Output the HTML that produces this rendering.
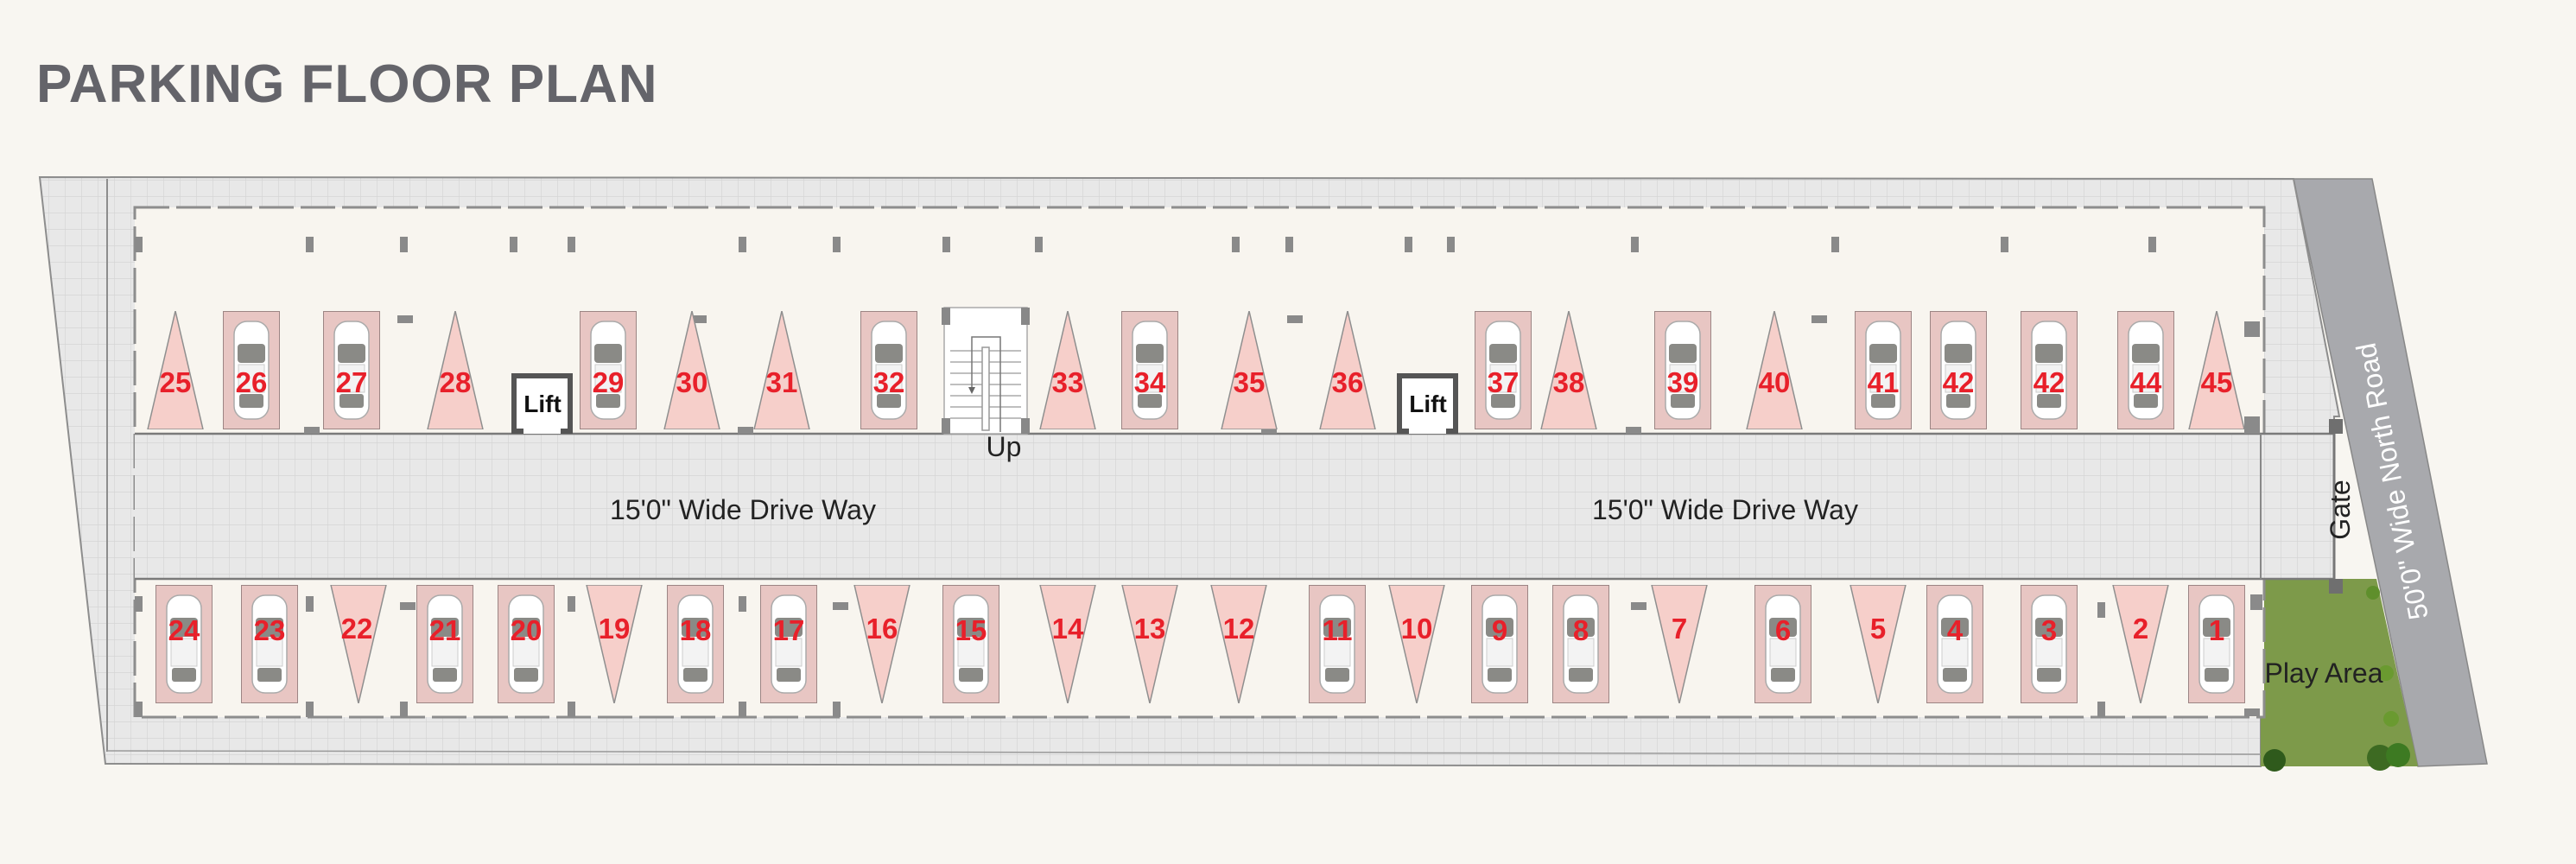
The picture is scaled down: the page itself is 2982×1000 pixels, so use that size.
<!DOCTYPE html>
<html><head><meta charset="utf-8"><style>
html,body{margin:0;padding:0;background:#f8f6f1;}
svg{display:block}
.n{font-family:"Liberation Sans",sans-serif;font-weight:bold;font-size:33px;fill:#e8202a;text-anchor:middle}
.t{font-family:"Liberation Sans",sans-serif;font-size:32px;fill:#222;text-anchor:middle}
</style></head><body>
<svg width="2982" height="1000" viewBox="0 0 2982 1000" xmlns="http://www.w3.org/2000/svg">
<defs>
<pattern id="g" width="19" height="19" patternUnits="userSpaceOnUse">
<rect width="19" height="19" fill="#e8e8e8"/><path d="M19 0V19H0" fill="none" stroke="#d3d3d3" stroke-width="1.2"/>
</pattern>
<symbol id="car" viewBox="0 0 66 137" width="66" height="137">
<rect x="0.5" y="0.5" width="65" height="136" fill="#e8c6c3" stroke="#9c8584"/>
<rect x="13" y="12" width="40" height="113" rx="15" fill="#fff" stroke="#aaa" stroke-width="1.5"/>
<rect x="17" y="38" width="32" height="22" rx="4" fill="#8a8a86"/>
<rect x="18" y="62" width="30" height="32" fill="#f3f3f3" stroke="#ccc"/>
<rect x="19" y="96" width="28" height="16" rx="3" fill="#8a8a86"/>
</symbol>
<symbol id="tu" viewBox="0 0 66 137" width="66" height="137"><polygon points="1,137 33,0 65,137" fill="#f6cfca" stroke="#8f8f8f" stroke-width="1.5"/></symbol>
<symbol id="td" viewBox="0 0 66 137" width="66" height="137"><polygon points="1,0 33,137 65,0" fill="#f6cfca" stroke="#8f8f8f" stroke-width="1.5"/></symbol>
<symbol id="lift" viewBox="0 0 71 70" width="71" height="70"><rect x="3" y="3" width="65" height="64" fill="#fff" stroke="#555" stroke-width="6"/><rect x="14" y="58" width="43" height="12" fill="#fff"/></symbol>
</defs>

<text x="42" y="118" font-family="'Liberation Sans',sans-serif" font-weight="bold" font-size="62" fill="#64646a" letter-spacing="1">PARKING FLOOR PLAN</text>

<!-- road -->
<polygon points="2655,207 2746,207 2879,884 2799,887" fill="#a8a9ad" stroke="#888" stroke-width="1.5"/>
<!-- slab -->
<polygon points="46,205 2655,207 2708,482 2702,482 2702,670 2617,670 2617,887 122,884" fill="url(#g)" stroke="#8d8d8d" stroke-width="2"/>
<line x1="124" y1="207" x2="124" y2="870" stroke="#8d8d8d" stroke-width="2"/>
<line x1="124" y1="869" x2="2617" y2="873" stroke="#9a9a9a" stroke-width="1.5"/>
<!-- green play area -->
<polygon points="2617,670 2751,670 2799,887 2617,887" fill="#7d9a4a"/>
<circle cx="2747" cy="686" r="8" fill="#5f8f2c"/><circle cx="2762" cy="779" r="9" fill="#6a9a30"/><circle cx="2768" cy="832" r="9" fill="#6a9a30"/>
<circle cx="2633" cy="880" r="13" fill="#2f5a1c"/><circle cx="2755" cy="877" r="15" fill="#3d6a22"/><circle cx="2776" cy="874" r="14" fill="#3d7a22"/>
<!-- floor -->
<rect x="156" y="240" width="2465" height="590" fill="#f8f5ef"/>
<rect x="156" y="240" width="2465" height="590" fill="none" stroke="#8d8d8d" stroke-width="3" stroke-dasharray="40,8"/>
<!-- driveway -->
<rect x="156" y="502" width="2546" height="168" fill="url(#g)"/>
<line x1="156" y1="502" x2="2702" y2="502" stroke="#7a7a7a" stroke-width="2.5"/>
<line x1="156" y1="670" x2="2702" y2="670" stroke="#7a7a7a" stroke-width="2.5"/>
<line x1="2702" y1="490" x2="2702" y2="680" stroke="#777" stroke-width="3"/>
<rect x="2696" y="485" width="16" height="17" fill="#6f6f6f"/><rect x="2696" y="670" width="16" height="17" fill="#6f6f6f"/>
<line x1="2617" y1="502" x2="2617" y2="670" stroke="#888" stroke-width="2"/>

<!-- columns -->
<g fill="#8a8a8a">
<rect x="156" y="274" width="9" height="18"/><rect x="354" y="274" width="9" height="18"/><rect x="463" y="274" width="9" height="18"/><rect x="590" y="274" width="9" height="18"/><rect x="657" y="274" width="9" height="18"/><rect x="855" y="274" width="9" height="18"/><rect x="964" y="274" width="9" height="18"/><rect x="1091" y="274" width="9" height="18"/><rect x="1198" y="274" width="9" height="18"/><rect x="1426" y="274" width="9" height="18"/><rect x="1488" y="274" width="9" height="18"/><rect x="1626" y="274" width="9" height="18"/><rect x="1675" y="274" width="9" height="18"/><rect x="1888" y="274" width="9" height="18"/><rect x="2120" y="274" width="9" height="18"/><rect x="2316" y="274" width="9" height="18"/><rect x="2487" y="274" width="9" height="18"/>
<rect x="460" y="365" width="18" height="9"/><rect x="800" y="365" width="18" height="9"/><rect x="1490" y="365" width="18" height="9"/><rect x="2097" y="365" width="18" height="9"/>
<rect x="352" y="494" width="18" height="8"/><rect x="854" y="494" width="18" height="8"/><rect x="1460" y="494" width="18" height="8"/><rect x="1882" y="494" width="18" height="8"/><rect x="2598" y="482" width="18" height="20"/><rect x="2598" y="372" width="18" height="18"/>
<rect x="156" y="690" width="9" height="18"/><rect x="354" y="690" width="9" height="18"/><rect x="463" y="697" width="18" height="9"/><rect x="657" y="690" width="9" height="18"/><rect x="855" y="690" width="9" height="18"/><rect x="964" y="697" width="18" height="9"/><rect x="1426" y="697" width="18" height="9"/><rect x="1888" y="697" width="18" height="9"/><rect x="2428" y="697" width="9" height="18"/><rect x="2605" y="688" width="14" height="18"/>
<rect x="156" y="812" width="9" height="18"/><rect x="354" y="812" width="9" height="18"/><rect x="463" y="812" width="9" height="18"/><rect x="657" y="812" width="9" height="18"/><rect x="855" y="812" width="9" height="18"/><rect x="964" y="812" width="9" height="18"/><rect x="2428" y="812" width="9" height="18"/><rect x="2598" y="820" width="18" height="9"/>
</g>

<!-- upper row -->
<use href="#tu" x="170" y="360"/><use href="#car" x="258" y="360"/><use href="#car" x="374" y="360"/><use href="#tu" x="494" y="360"/>
<use href="#lift" x="592" y="432"/><text x="628" y="477" font-family="'Liberation Sans',sans-serif" font-weight="bold" font-size="28" fill="#111" text-anchor="middle">Lift</text>
<use href="#car" x="671" y="360"/><use href="#tu" x="768" y="360"/><use href="#tu" x="872" y="360"/><use href="#car" x="996" y="360"/>
<!-- stair -->
<rect x="1093" y="356" width="96" height="146" fill="#fff" stroke="#aaa" stroke-width="1.5"/>
<rect x="1090" y="356" width="10" height="20" fill="#888"/><rect x="1182" y="356" width="10" height="20" fill="#888"/><rect x="1090" y="484" width="10" height="18" fill="#888"/><rect x="1182" y="484" width="10" height="18" fill="#888"/>
<g stroke="#aaa" stroke-width="1.5"><line x1="1100" y1="406" x2="1182" y2="406"/><line x1="1100" y1="419" x2="1182" y2="419"/><line x1="1100" y1="432" x2="1182" y2="432"/><line x1="1100" y1="445" x2="1182" y2="445"/><line x1="1100" y1="458" x2="1182" y2="458"/><line x1="1100" y1="471" x2="1182" y2="471"/><line x1="1100" y1="484" x2="1182" y2="484"/></g>
<rect x="1137" y="402" width="8" height="96" fill="#fff" stroke="#999" stroke-width="1.5"/>
<path d="M1125 450 V390 H1158 V500" fill="none" stroke="#777" stroke-width="1.5"/><polygon points="1121,448 1129,448 1125,456" fill="#666"/>
<text x="1162" y="528" class="t" font-size="30">Up</text>
<use href="#tu" x="1203" y="360"/><use href="#car" x="1298" y="360"/><use href="#tu" x="1413" y="360"/><use href="#tu" x="1527" y="360"/>
<use href="#lift" x="1617" y="432"/><text x="1653" y="477" font-family="'Liberation Sans',sans-serif" font-weight="bold" font-size="28" fill="#111" text-anchor="middle">Lift</text>
<use href="#car" x="1707" y="360"/><use href="#tu" x="1783" y="360"/><use href="#car" x="1915" y="360"/><use href="#tu" x="2021" y="360"/>
<use href="#car" x="2147" y="360"/><use href="#car" x="2234" y="360"/><use href="#car" x="2339" y="360"/><use href="#car" x="2451" y="360"/><use href="#tu" x="2533" y="360"/>
<g>
<text x="203" y="454" class="n">25</text><text x="291" y="454" class="n">26</text><text x="407" y="454" class="n">27</text><text x="527" y="454" class="n">28</text><text x="704" y="454" class="n">29</text><text x="801" y="454" class="n">30</text><text x="905" y="454" class="n">31</text><text x="1029" y="454" class="n">32</text><text x="1236" y="454" class="n">33</text><text x="1331" y="454" class="n">34</text><text x="1446" y="454" class="n">35</text><text x="1560" y="454" class="n">36</text><text x="1740" y="454" class="n">37</text><text x="1816" y="454" class="n">38</text><text x="1948" y="454" class="n">39</text><text x="2054" y="454" class="n">40</text><text x="2180" y="454" class="n">41</text><text x="2267" y="454" class="n">42</text><text x="2372" y="454" class="n">42</text><text x="2484" y="454" class="n">44</text><text x="2566" y="454" class="n">45</text>
</g>

<!-- lower row -->
<use href="#car" x="180" y="677"/><use href="#car" x="279" y="677"/><use href="#td" x="382" y="677"/><use href="#car" x="482" y="677"/><use href="#car" x="576" y="677"/><use href="#td" x="678" y="677"/><use href="#car" x="772" y="677"/><use href="#car" x="880" y="677"/><use href="#td" x="988" y="677"/><use href="#car" x="1091" y="677"/><use href="#td" x="1203" y="677"/><use href="#td" x="1298" y="677"/><use href="#td" x="1401" y="677"/><use href="#car" x="1515" y="677"/><use href="#td" x="1607" y="677"/><use href="#car" x="1703" y="677"/><use href="#car" x="1797" y="677"/><use href="#td" x="1911" y="677"/><use href="#car" x="2031" y="677"/><use href="#td" x="2141" y="677"/><use href="#car" x="2230" y="677"/><use href="#car" x="2339" y="677"/><use href="#td" x="2445" y="677"/><use href="#car" x="2533" y="677"/>
<g>
<text x="213" y="741" class="n">24</text><text x="312" y="741" class="n">23</text><text x="413" y="739" class="n">22</text><text x="515" y="741" class="n">21</text><text x="609" y="741" class="n">20</text><text x="711" y="739" class="n">19</text><text x="805" y="741" class="n">18</text><text x="913" y="741" class="n">17</text><text x="1021" y="739" class="n">16</text><text x="1124" y="741" class="n">15</text><text x="1236" y="739" class="n">14</text><text x="1331" y="739" class="n">13</text><text x="1434" y="739" class="n">12</text><text x="1548" y="741" class="n">11</text><text x="1640" y="739" class="n">10</text><text x="1736" y="741" class="n">9</text><text x="1830" y="741" class="n">8</text><text x="1944" y="739" class="n">7</text><text x="2064" y="741" class="n">6</text><text x="2174" y="739" class="n">5</text><text x="2263" y="741" class="n">4</text><text x="2372" y="741" class="n">3</text><text x="2478" y="739" class="n">2</text><text x="2566" y="741" class="n">1</text>
</g>

<text x="860" y="601" class="t">15'0" Wide Drive Way</text>
<text x="1997" y="601" class="t">15'0" Wide Drive Way</text>
<text x="2690" y="790" class="t" font-size="30">Play Area</text>
<text transform="translate(2720,590) rotate(-90)" class="t" font-size="28">Gate</text>
<text transform="translate(2780,555) rotate(-101)" class="t" font-size="32" style="fill:#fff">50'0" Wide North Road</text>
</svg>
</body></html>
